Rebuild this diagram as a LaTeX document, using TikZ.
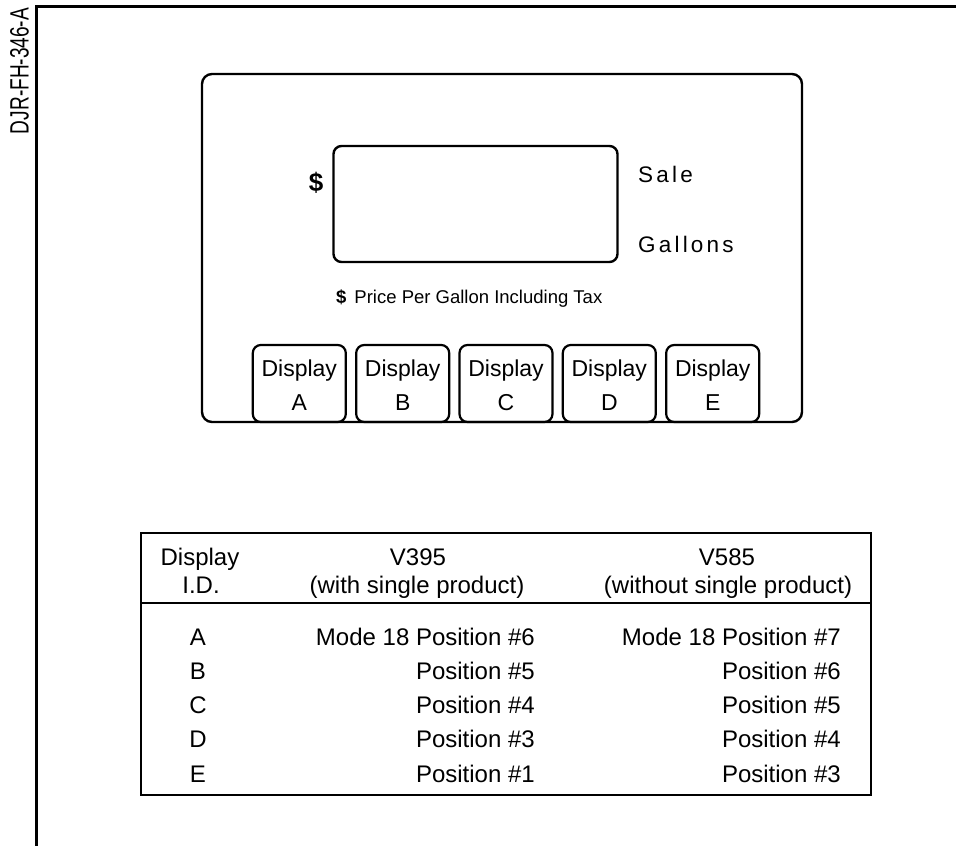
\documentclass[tikz,border=0pt]{standalone}
\usepackage{fontspec}
\usepackage{graphicx}
\setmainfont{Liberation Sans}
\newcommand{\fsz}[1]{\fontsize{#1}{#1}\selectfont}
% letter-spaced word for the Sale / Gallons captions
\newcommand{\trk}[1]{\trkloop#1\relax}
\def\trkloop#1#2{#1\ifx#2\relax\else\kern3.2pt\expandafter\trkloop\expandafter#2\fi}
\begin{document}
\begin{tikzpicture}[x=1pt,y=-1pt,
  frame/.style={line width=3pt},
  panel/.style={draw, line width=2.4pt, rounded corners=10pt, inner sep=0pt},
  keybox/.style={draw, line width=2.2pt, rounded corners=8pt, inner sep=0pt,
    minimum width=93pt, minimum height=77pt},
  tablebox/.style={draw, line width=2.4pt, inner sep=0pt},
  lbl/.style={inner sep=0pt, anchor=base},
  lbll/.style={inner sep=0pt, anchor=base west},
  lblr/.style={inner sep=0pt, anchor=base east},
]
\useasboundingbox (0,0) rectangle (956,846);

% drawing frame and sheet number
\coordinate (fc) at (36,6);
\coordinate (fr) at (956,6);
\coordinate (fb) at (36,846);
\draw[frame] (fr) -- (fc) -- (fb);
\node[inner sep=0pt, rotate=90, anchor=base] (sheet) at (28.5,71)
  {\fsz{26.5}\scalebox{0.72}[1]{DJR-FH-346-A}};

% pump display panel
\node[panel, minimum width=600pt, minimum height=348pt] (panel) at (502,248) {};
\node[panel, rounded corners=8pt, minimum width=284pt, minimum height=116pt] (screen) at (475.5,204) {};
\node[inner sep=0pt] (dollar) at (316,183) {\fsz{26}\bfseries\$};
\node[lbll] (sale) at (638,182) {\fsz{22.5}\trk{Sale}};
\node[lbll] (gallons) at (638,252) {\fsz{22.5}\trk{Gallons}};
\node[lbll] (ppg) at (336,303) {\fsz{18.5}{\bfseries\$}\hspace{8pt}Price Per Gallon Including Tax};

% display keys
\foreach \k/\x in {A/299.3, B/402.7, C/506.0, D/609.3, E/712.7}{
  \node[keybox] (key\k) at (\x,383.5) {};
  \node[lbl] (keyt\k) at (\x,376) {\fsz{23}Display};
  \node[lbl] (keyl\k) at (\x,410) {\fsz{23}\k};
}

% position table
\node[tablebox, minimum width=730pt, minimum height=262pt] (table) at (506,664) {};
\coordinate (hl) at (141,603);
\coordinate (hr) at (871,603);
\draw[line width=2.2pt] (hl) -- (hr);

\node[lbl] (h1a) at (200,565) {\fsz{24}Display};
\node[lbl] (h1b) at (201,593) {\fsz{24}I.D.};
\node[lbl] (h2a) at (418,565) {\fsz{24}V395};
\node[lbl] (h2b) at (417,593) {\fsz{24}(with single product)};
\node[lbl] (h3a) at (727,565) {\fsz{24}V585};
\node[lbl] (h3b) at (728,593) {\fsz{24}(without single product)};

\foreach \id/\y/\va/\vb in {
  A/645/Mode 18 Position \#6/Mode 18 Position \#7,
  B/679/Position \#5/Position \#6,
  C/713/Position \#4/Position \#5,
  D/747/Position \#3/Position \#4,
  E/782/Position \#1/Position \#3}{
  \node[lbl] (r\id) at (198,\y) {\fsz{24}\id};
  \node[lblr] (r\id v) at (535,\y) {\fsz{24}\va};
  \node[lblr] (r\id w) at (841,\y) {\fsz{24}\vb};
}
\end{tikzpicture}
\end{document}
